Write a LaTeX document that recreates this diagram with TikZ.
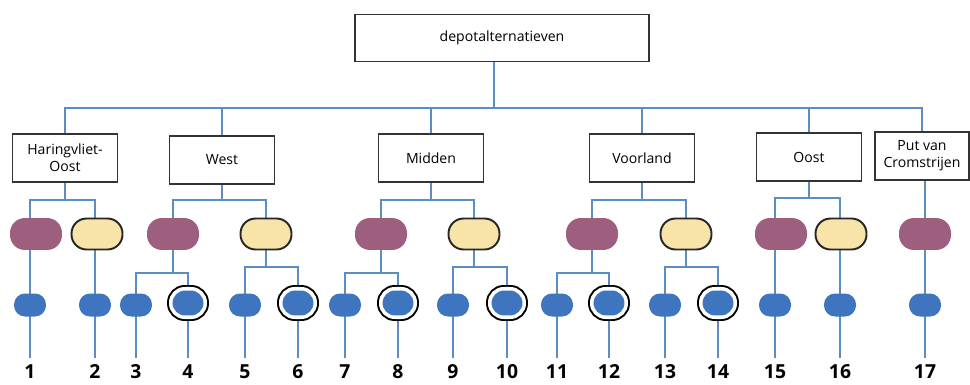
\documentclass[tikz,border=0pt]{standalone}
\usepackage{fontspec}
\setmainfont{Open Sans}
\usetikzlibrary{positioning, backgrounds}

\definecolor{linkblue}{HTML}{5B8CC2}
\definecolor{mauve}{HTML}{9E5E7E}
\definecolor{cream}{HTML}{F8E3A8}
\definecolor{leafblue}{HTML}{3F74BE}

\begin{document}
\begin{tikzpicture}[
    x=0.02cm, y=-0.02cm, % one unit is one pixel of the reference, y pointing down
    box/.style={draw=black!80, line width=1pt, fill=white, minimum width=2.1cm, minimum height=0.96cm,
        align=center, inner sep=1pt, font=\fontsize{8}{9.5}\selectfont}, % area boxes
    link/.style={linkblue, line width=1pt}, % tree lines
    drop/.style={link, shorten <=0.12cm, shorten >=0.12cm}, % lines that end above the numbers
    mauvepill/.style={fill=mauve, minimum width=1.04cm, minimum height=0.64cm, rounded corners=0.3cm},
    creampill/.style={fill=cream, draw=black!85, line width=1.1pt, minimum width=1.02cm,
        minimum height=0.62cm, rounded corners=0.3cm},
    leaf/.style={fill=leafblue, minimum width=0.64cm, minimum height=0.46cm, rounded corners=0.22cm, inner sep=0pt},
    ringleaf/.style={fill=leafblue, draw=white, line width=2pt, preaction={draw=black, line width=4.25pt},
        minimum width=0.69cm, minimum height=0.57cm, rounded corners=0.28cm, inner sep=0pt},
    num/.style={anchor=north, inner sep=0pt, font=\fontsize{11}{13}\selectfont\bfseries}
]

    \useasboundingbox (0,0) rectangle (970,385);
    \clip (0,0) rectangle (970,385);

    % Boxes
    \node[box, minimum width=5.88cm, minimum height=0.94cm] (top) at (502,38) {depotalternatieven};
    \node[box] (hoost) at (65,158) {Haringvliet-\\Oost};
    \node[box] (west) at (222,160) {West};
    \node[box] (midden) at (431,158) {Midden};
    \node[box] (voorland) at (642,158) {Voorland};
    \node[box] (oost) at (809,157) {Oost};
    \node[box, minimum width=1.88cm] (put) at (922,156) {Put van\\Cromstrijen};

    % Pills
    \node[mauvepill] (pHO) at (36,234) {};
    \node[creampill] (yHO) at (97,234) {};
    \node[mauvepill] (pW) at (173,234) {};
    \node[creampill] (yW) at (266,234) {};
    \node[mauvepill] (pM) at (381,234) {};
    \node[creampill] (yM) at (474,234) {};
    \node[mauvepill] (pV) at (592,234) {};
    \node[creampill] (yV) at (686,234) {};
    \node[mauvepill] (pO) at (781,234) {};
    \node[creampill] (yO) at (841,234) {};
    \node[mauvepill] (pP) at (925,234) {};

    % Leaves and numbers
    \foreach \i/\x in {1/30, 2/95, 3/136, 5/245, 7/345, 9/453, 11/557, 13/665, 15/775, 16/840, 17/925}
        \node[leaf] (b\i) at (\x,305) {};
    \foreach \i/\x in {4/188, 6/298, 8/398, 10/507, 12/609, 14/718}
        \node[ringleaf] (b\i) at (\x,303) {};
    \foreach \i/\x in {1/30, 2/95, 3/136, 4/188, 5/245, 6/298, 7/345, 8/398, 9/453,
                       10/507, 11/557, 12/609, 13/665, 14/718, 15/775, 16/840, 17/925}
        \node[num] (n\i) at (\x,364) {\i};

    \begin{scope}[on background layer]
        % Main bus
        \coordinate (bus) at (494,108);
        \draw[link] (top.south -| bus) -- (bus);
        \draw[link] (hoost.north) -- (hoost.north |- bus) -- (put.north |- bus) -- (put.north);
        \foreach \b in {west, midden, voorland, oost}
            \draw[link] (\b.north) -- (\b.north |- bus);

        % Haringvliet-Oost
        \coordinate (hsub) at (65,200);
        \draw[link] (hoost.south) -- (hsub);
        \draw[drop] (n1.north) |- (hsub) -| (n2.north);

        % West
        \coordinate (wsub) at (222,200);
        \draw[link] (west.south) -- (wsub);
        \draw[link] (pW) |- (wsub) -| (yW);
        \coordinate (wP) at (173,273);
        \draw[link] (pW) -- (wP);
        \draw[drop] (n3.north) |- (wP) -| (n4.north);
        \coordinate (wY) at (266,267);
        \draw[link] (yW) -- (wY);
        \draw[drop] (n5.north) |- (wY) -| (n6.north);

        % Midden
        \coordinate (msub) at (431,200);
        \draw[link] (midden.south) -- (msub);
        \draw[link] (pM) |- (msub) -| (yM);
        \coordinate (mP) at (381,273);
        \draw[link] (pM) -- (mP);
        \draw[drop] (n7.north) |- (mP) -| (n8.north);
        \coordinate (mY) at (474,267);
        \draw[link] (yM) -- (mY);
        \draw[drop] (n9.north) |- (mY) -| (n10.north);

        % Voorland
        \coordinate (vsub) at (642,200);
        \draw[link] (voorland.south) -- (vsub);
        \draw[link] (pV) |- (vsub) -| (yV);
        \coordinate (vP) at (592,273);
        \draw[link] (pV) -- (vP);
        \draw[drop] (n11.north) |- (vP) -| (n12.north);
        \coordinate (vY) at (686,267);
        \draw[link] (yV) -- (vY);
        \draw[drop] (n13.north) |- (vY) -| (n14.north);

        % Oost
        \coordinate (osub) at (809,198);
        \draw[link] (oost.south) -- (osub);
        \draw[drop] (n15.north) |- (osub) -| (n16.north);

        % Put van Cromstrijen
        \draw[link, shorten >=0.12cm] (put.south -| n17) -- (n17.north);
    \end{scope}

\end{tikzpicture}
\end{document}
